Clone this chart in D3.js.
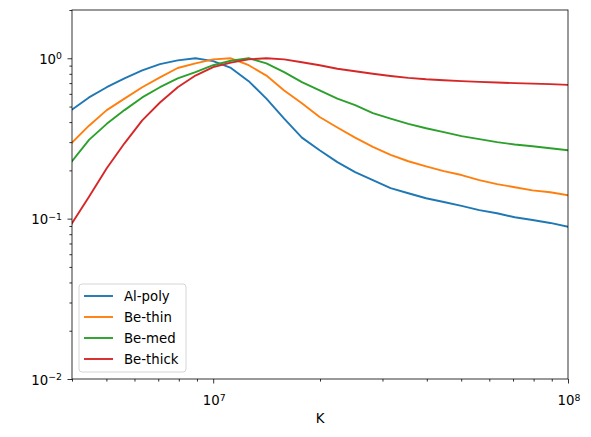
<!DOCTYPE html>
<html>
<head>
<meta charset="utf-8">
<script src="https://cdn.jsdelivr.net/npm/d3@7"></script>
<style>
  body { margin: 0; background: #fff; }
  text { font-family: "DejaVu Sans", sans-serif; fill: #000; }
</style>
</head>
<body>
<div id="chart"></div>
<script>
// temperatures, log10(K)
var logT = [6.60, 6.65, 6.70, 6.75, 6.80, 6.85, 6.90, 6.95, 7.00, 7.05,
            7.10, 7.15, 7.20, 7.25, 7.30, 7.35, 7.40, 7.45, 7.50, 7.55,
            7.60, 7.65, 7.70, 7.75, 7.80, 7.85, 7.90, 7.95, 8.00]

var alPoly  = [0.475, 0.57, 0.66, 0.75, 0.84, 0.92, 0.97, 1.0, 0.96, 0.87,
               0.72, 0.56, 0.42, 0.32, 0.267, 0.225, 0.195, 0.174, 0.155, 0.144,
               0.134, 0.127, 0.12, 0.113, 0.108, 0.102, 0.098, 0.094, 0.089]
var beThin  = [0.295, 0.38, 0.475, 0.56, 0.66, 0.76, 0.87, 0.93, 0.985, 1.0,
               0.905, 0.78, 0.63, 0.525, 0.43, 0.37, 0.32, 0.28, 0.25, 0.228,
               0.212, 0.198, 0.187, 0.174, 0.164, 0.157, 0.15, 0.146, 0.14]
var beMed   = [0.225, 0.31, 0.39, 0.475, 0.57, 0.66, 0.75, 0.82, 0.905, 0.965,
               1.0, 0.93, 0.82, 0.71, 0.63, 0.56, 0.51, 0.455, 0.42, 0.39,
               0.366, 0.346, 0.327, 0.313, 0.30, 0.29, 0.283, 0.275, 0.267]
var beThick = [0.092, 0.137, 0.206, 0.295, 0.41, 0.53, 0.66, 0.78, 0.88, 0.94,
               0.985, 1.0, 0.985, 0.945, 0.905, 0.86, 0.83, 0.80, 0.775, 0.755,
               0.74, 0.73, 0.72, 0.713, 0.706, 0.70, 0.695, 0.69, 0.683]

var seriesNames = ["Al-poly", "Be-thin", "Be-med", "Be-thick"]
var seriesValues = [alPoly, beThin, beMed, beThick]
var colors = ["#1f77b4", "#ff7f0e", "#2ca02c", "#d62728"]

var xMajor = [1e7, 1e8], xMajorExp = ["7", "8"]
var yMajor = [1e-2, 1e-1, 1e0], yMajorExp = ["\u22122", "\u22121", "0"]

var width = 591, height = 437
var margin = { top: 10, right: 23, bottom: 58, left: 72 }
var fs = 13.3

var svg = d3.select("#chart").append("svg")
    .attr("width", width)
    .attr("height", height)

var x = d3.scaleLog().domain([4e6, 1e8]).range([margin.left, width - margin.right])
var y = d3.scaleLog().domain([1e-2, 2]).range([height - margin.bottom, margin.top])

// minor ticks
var xMinor = [], yMinor = []
for (var e = 6; e < 8; e++) {
    for (var m = 2; m < 10; m++) {
        var v = m * Math.pow(10, e)
        if (v >= 4e6 && v <= 1e8) xMinor.push(v)
    }
}
for (var e = -2; e < 1; e++) {
    for (var m = 2; m < 10; m++) {
        var v = m * Math.pow(10, e)
        if (v <= 2) yMinor.push(v)
    }
}

var plotBottom = height - margin.bottom

var gx = svg.append("g").attr("transform", "translate(0," + plotBottom + ")")
gx.call(d3.axisBottom(x).tickValues(xMinor).tickSize(2.6).tickFormat(""))
gx.append("g").call(d3.axisBottom(x).tickValues(xMajor).tickSize(4.5).tickFormat(""))
gx.selectAll(".domain").remove()
gx.selectAll("line").attr("stroke", "#000").attr("stroke-width", 0.8)

var gy = svg.append("g").attr("transform", "translate(" + margin.left + ",0)")
gy.call(d3.axisLeft(y).tickValues(yMinor).tickSize(2.6).tickFormat(""))
gy.append("g").call(d3.axisLeft(y).tickValues(yMajor).tickSize(4.5).tickFormat(""))
gy.selectAll(".domain").remove()
gy.selectAll("line").attr("stroke", "#000").attr("stroke-width", 0.8)

// tick labels with superscripts
xMajor.forEach(function(v, i) {
    var t = svg.append("text")
        .attr("x", x(v) + 1)
        .attr("y", plotBottom + 26)
        .attr("text-anchor", "middle")
        .attr("font-size", fs)
    t.append("tspan").text("10")
    t.append("tspan").attr("dy", -4.5).attr("font-size", 9.3).text(xMajorExp[i])
})
yMajor.forEach(function(v, i) {
    var t = svg.append("text")
        .attr("x", margin.left - 10)
        .attr("y", y(v) + 5.5)
        .attr("text-anchor", "end")
        .attr("font-size", fs)
    t.append("tspan").text("10")
    t.append("tspan").attr("dy", -4.5).attr("font-size", 9.3).text(yMajorExp[i])
})

svg.append("text")
    .attr("x", (margin.left + width - margin.right) / 2)
    .attr("y", 423)
    .attr("text-anchor", "middle")
    .attr("font-size", fs)
    .text("K")

// lines
svg.append("defs").append("clipPath").attr("id", "clip")
    .append("rect")
    .attr("x", margin.left).attr("y", margin.top)
    .attr("width", width - margin.right - margin.left)
    .attr("height", plotBottom - margin.top)

var line = d3.line()
    .x(function(d) { return x(Math.pow(10, d[0])) })
    .y(function(d) { return y(d[1]) })

seriesValues.forEach(function(vals, i) {
    svg.append("path")
        .datum(logT.map(function(t, j) { return [t, vals[j]] }))
        .attr("clip-path", "url(#clip)")
        .attr("fill", "none")
        .attr("stroke", colors[i])
        .attr("stroke-width", 1.9)
        .attr("stroke-linejoin", "round")
        .attr("stroke-linecap", "square")
        .attr("d", line)
})

// frame
svg.append("rect")
    .attr("x", margin.left).attr("y", margin.top)
    .attr("width", width - margin.right - margin.left)
    .attr("height", plotBottom - margin.top)
    .attr("fill", "none")
    .attr("stroke", "#000")
    .attr("stroke-width", 0.8)

// legend
var lg = svg.append("g").attr("transform", "translate(79,284)")
lg.append("rect")
    .attr("width", 107).attr("height", 88)
    .attr("rx", 3).attr("ry", 3)
    .attr("fill", "#fff").attr("fill-opacity", 0.8)
    .attr("stroke", "#ccc").attr("stroke-width", 0.8)

seriesNames.forEach(function(name, i) {
    var yy = 12 + i * 21
    lg.append("line")
        .attr("x1", 5).attr("x2", 34)
        .attr("y1", yy).attr("y2", yy)
        .attr("stroke", colors[i]).attr("stroke-width", 1.9)
    lg.append("text")
        .attr("x", 45).attr("y", yy + 5)
        .attr("font-size", fs)
        .text(name)
})
</script>
</body>
</html>
